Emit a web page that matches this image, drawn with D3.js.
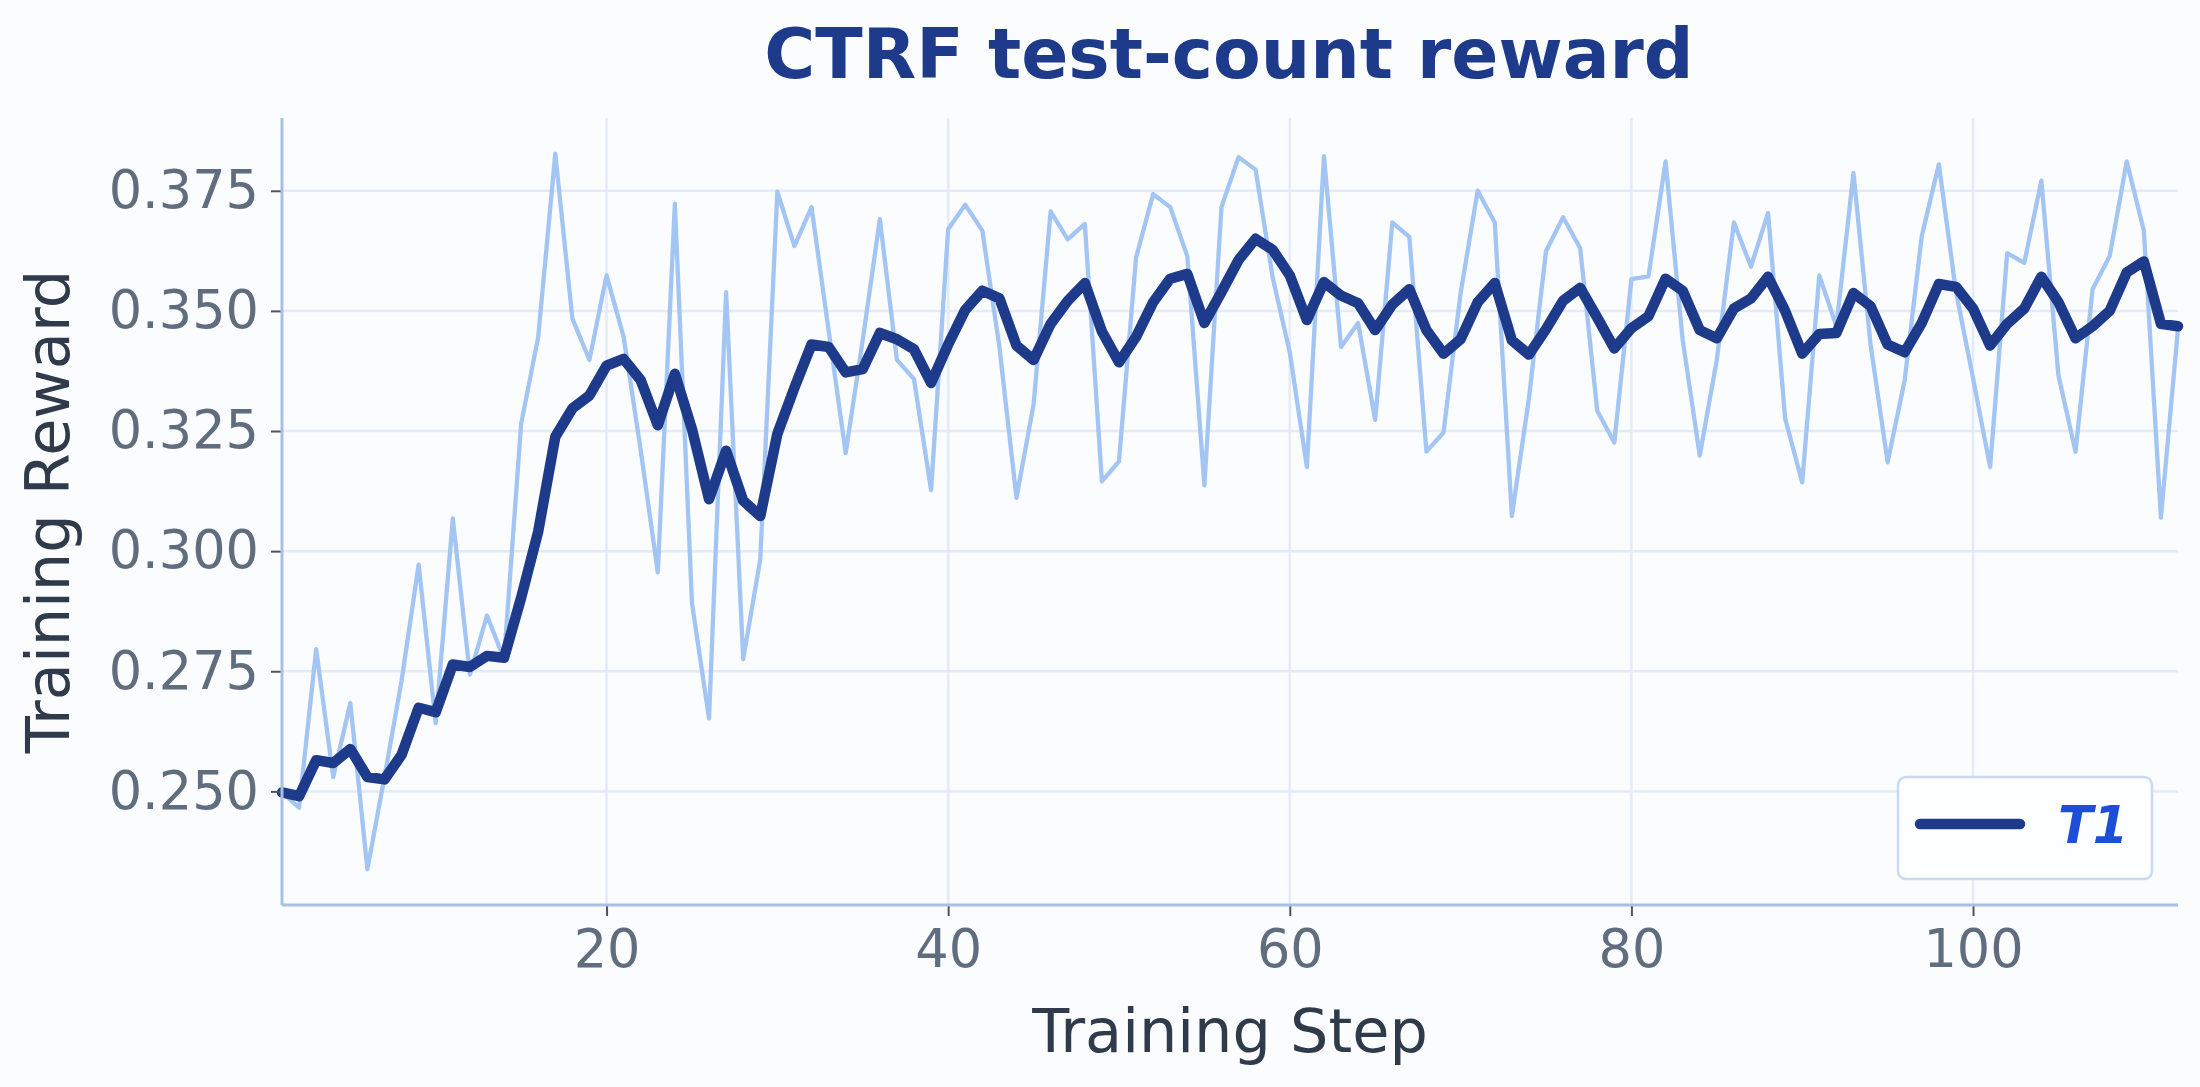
<!DOCTYPE html>
<html>
<head>
<meta charset="utf-8">
<script src="https://d3js.org/d3.v7.min.js"></script>
<style>
  body { margin: 0; background: #fbfcfe; }
  svg { display: block; font-family: "DejaVu Sans", sans-serif; }
</style>
</head>
<body>
<script>
// training steps 1..112
const steps = d3.range(1, 113)

// raw reward per step (light line)
const rawReward = [
  0.2498, 0.2466, 0.2796, 0.2530, 0.2684, 0.2338, 0.2530, 0.2730, 0.2972, 0.2642,
  0.3068, 0.2743, 0.2866, 0.2775, 0.3265, 0.3446, 0.3827, 0.3484, 0.3398, 0.3574,
  0.3446, 0.3210, 0.2956, 0.3723, 0.2892, 0.2652, 0.3539, 0.2775, 0.2983, 0.3748,
  0.3635, 0.3716, 0.3460, 0.3204, 0.3440, 0.3691, 0.3398, 0.3358, 0.3127, 0.3670,
  0.3721, 0.3667, 0.3425, 0.3111, 0.3305, 0.3707, 0.3649, 0.3681, 0.3145, 0.3187,
  0.3611, 0.3743, 0.3716, 0.3614, 0.3137, 0.3716, 0.3820, 0.3794, 0.3569, 0.3414,
  0.3175, 0.3822, 0.3425, 0.3475, 0.3273, 0.3684, 0.3654, 0.3207, 0.3247, 0.3537,
  0.3750, 0.3684, 0.3073, 0.3318, 0.3624, 0.3695, 0.3631, 0.3292, 0.3226, 0.3566,
  0.3572, 0.3811, 0.3440, 0.3199, 0.3398, 0.3684, 0.3592, 0.3704, 0.3276, 0.3143,
  0.3574, 0.3468, 0.3787, 0.3430, 0.3185, 0.3356, 0.3656, 0.3805, 0.3540, 0.3360,
  0.3175, 0.3620, 0.3600, 0.3771, 0.3366, 0.3207, 0.3545, 0.3614, 0.3811, 0.3667,
  0.3070, 0.3463
]

// smoothed reward (T1, dark line)
const smoothReward = [
  0.2498, 0.2490, 0.2565, 0.2559, 0.2588, 0.2530, 0.2525, 0.2576, 0.2674, 0.2665,
  0.2764, 0.2759, 0.2782, 0.2778, 0.2903, 0.3041, 0.3238, 0.3297, 0.3324, 0.3386,
  0.3400, 0.3356, 0.3262, 0.3369, 0.3254, 0.3108, 0.3209, 0.3105, 0.3073, 0.3244,
  0.3340, 0.3430, 0.3425, 0.3372, 0.3379, 0.3454, 0.3441, 0.3420, 0.3350, 0.3430,
  0.3502, 0.3542, 0.3526, 0.3428, 0.3398, 0.3473, 0.3521, 0.3558, 0.3457, 0.3393,
  0.3446, 0.3518, 0.3567, 0.3577, 0.3475, 0.3539, 0.3606, 0.3650, 0.3627, 0.3574,
  0.3481, 0.3560, 0.3532, 0.3516, 0.3460, 0.3513, 0.3545, 0.3460, 0.3411, 0.3441,
  0.3518, 0.3558, 0.3439, 0.3409, 0.3462, 0.3521, 0.3548, 0.3486, 0.3422, 0.3464,
  0.3489, 0.3567, 0.3542, 0.3460, 0.3443, 0.3505, 0.3526, 0.3571, 0.3500, 0.3411,
  0.3452, 0.3454, 0.3537, 0.3510, 0.3430, 0.3414, 0.3475, 0.3556, 0.3550, 0.3505,
  0.3428, 0.3473, 0.3505, 0.3571, 0.3518, 0.3443, 0.3468, 0.3500, 0.3580, 0.3603,
  0.3473, 0.3468
]

const xTicks = [20, 40, 60, 80, 100]
const yTicks = [0.250, 0.275, 0.300, 0.325, 0.350, 0.375]
const seriesName = "T1"

const w = 2200
const h = 1087
const margin = { top: 118, right: 22, bottom: 182, left: 282 }

const svg = d3.select("body")
  .append("svg")
  .attr("width", w)
  .attr("height", h)

svg.append("rect")
  .attr("width", w)
  .attr("height", h)
  .attr("fill", "#fbfcfe")

const xScale = d3.scaleLinear()
  .domain(d3.extent(steps))
  .range([margin.left, w - margin.right])

// 5% padding like matplotlib autoscale
const allVals = rawReward.concat(smoothReward)
const lo = d3.min(allVals), hi = d3.max(allVals)
const pad = (hi - lo) * 0.05
const yScale = d3.scaleLinear()
  .domain([lo - pad, hi + pad])
  .range([h - margin.bottom, margin.top])

// grid
svg.append("g")
  .selectAll("line.vgrid")
  .data(xTicks)
  .enter()
  .append("line")
  .attr("x1", d => xScale(d))
  .attr("x2", d => xScale(d))
  .attr("y1", margin.top)
  .attr("y2", h - margin.bottom)
  .attr("stroke", "#e2ebf7")
  .attr("stroke-width", 2.5)

svg.append("g")
  .selectAll("line.hgrid")
  .data(yTicks)
  .enter()
  .append("line")
  .attr("x1", margin.left)
  .attr("x2", w - margin.right)
  .attr("y1", d => yScale(d))
  .attr("y2", d => yScale(d))
  .attr("stroke", "#e2ebf7")
  .attr("stroke-width", 2.5)

// lines
const line = d3.line()
  .x((d, i) => xScale(steps[i]))
  .y(d => yScale(d))

svg.append("path")
  .datum(rawReward)
  .attr("d", line)
  .attr("fill", "none")
  .attr("stroke", "#a3c5f4")
  .attr("stroke-width", 4.3)
  .attr("stroke-linejoin", "round")

svg.append("path")
  .datum(smoothReward)
  .attr("d", line)
  .attr("fill", "none")
  .attr("stroke", "#1e3a8a")
  .attr("stroke-width", 10.5)
  .attr("stroke-linejoin", "round")
  .attr("stroke-linecap", "round")

// axes
const xAxis = d3.axisBottom(xScale)
  .tickValues(xTicks)
  .tickSize(11)
  .tickPadding(14)
const yAxis = d3.axisLeft(yScale)
  .tickValues(yTicks)
  .tickFormat(d3.format(".3f"))
  .tickSize(11)
  .tickPadding(12)

const gx = svg.append("g")
  .attr("transform", "translate(0," + (h - margin.bottom) + ")")
  .call(xAxis)
const gy = svg.append("g")
  .attr("transform", "translate(" + margin.left + ",0)")
  .call(yAxis)

for (const g of [gx, gy]) {
  g.select(".domain").remove()
  g.selectAll(".tick line").attr("stroke", "#4b5563").attr("stroke-width", 2)
  g.selectAll(".tick text")
    .attr("fill", "#5f6d7e")
    .style("font-size", "52.5px")
    .style("font-family", "DejaVu Sans")
}

// spines
svg.append("line")
  .attr("x1", margin.left).attr("x2", margin.left)
  .attr("y1", margin.top).attr("y2", h - margin.bottom)
  .attr("stroke", "#a8c0e2").attr("stroke-width", 3)
svg.append("line")
  .attr("x1", margin.left).attr("x2", w - margin.right)
  .attr("y1", h - margin.bottom).attr("y2", h - margin.bottom)
  .attr("stroke", "#a8c0e2").attr("stroke-width", 3)

// title and labels
svg.append("text")
  .attr("x", 1229)
  .attr("y", 78)
  .attr("text-anchor", "middle")
  .attr("fill", "#1e3a8a")
  .style("font-size", "69.5px")
  .style("font-weight", "bold")
  .text("CTRF test-count reward")

svg.append("text")
  .attr("x", (margin.left + w - margin.right) / 2)
  .attr("y", 1052)
  .attr("text-anchor", "middle")
  .attr("fill", "#2f3a4b")
  .style("font-size", "60.5px")
  .text("Training Step")

svg.append("text")
  .attr("transform", "translate(69," + ((margin.top + h - margin.bottom) / 2) + ") rotate(-90)")
  .attr("text-anchor", "middle")
  .attr("fill", "#2f3a4b")
  .style("font-size", "60.5px")
  .text("Training Reward")

// legend
const legend = svg.append("g").attr("transform", "translate(1898,777)")
legend.append("rect")
  .attr("width", 254)
  .attr("height", 102)
  .attr("rx", 8)
  .attr("fill", "#fdfeff")
  .attr("stroke", "#cad9ef")
  .attr("stroke-width", 2.5)
legend.append("line")
  .attr("x1", 22).attr("x2", 122)
  .attr("y1", 47).attr("y2", 47)
  .attr("stroke", "#1e3a8a")
  .attr("stroke-width", 10.5)
  .attr("stroke-linecap", "round")
legend.append("text")
  .attr("x", 160)
  .attr("y", 66)
  .attr("fill", "#1d4ed8")
  .style("font-size", "51px")
  .style("font-weight", "bold")
  .style("font-style", "italic")
  .text(seriesName)
</script>
</body>
</html>
